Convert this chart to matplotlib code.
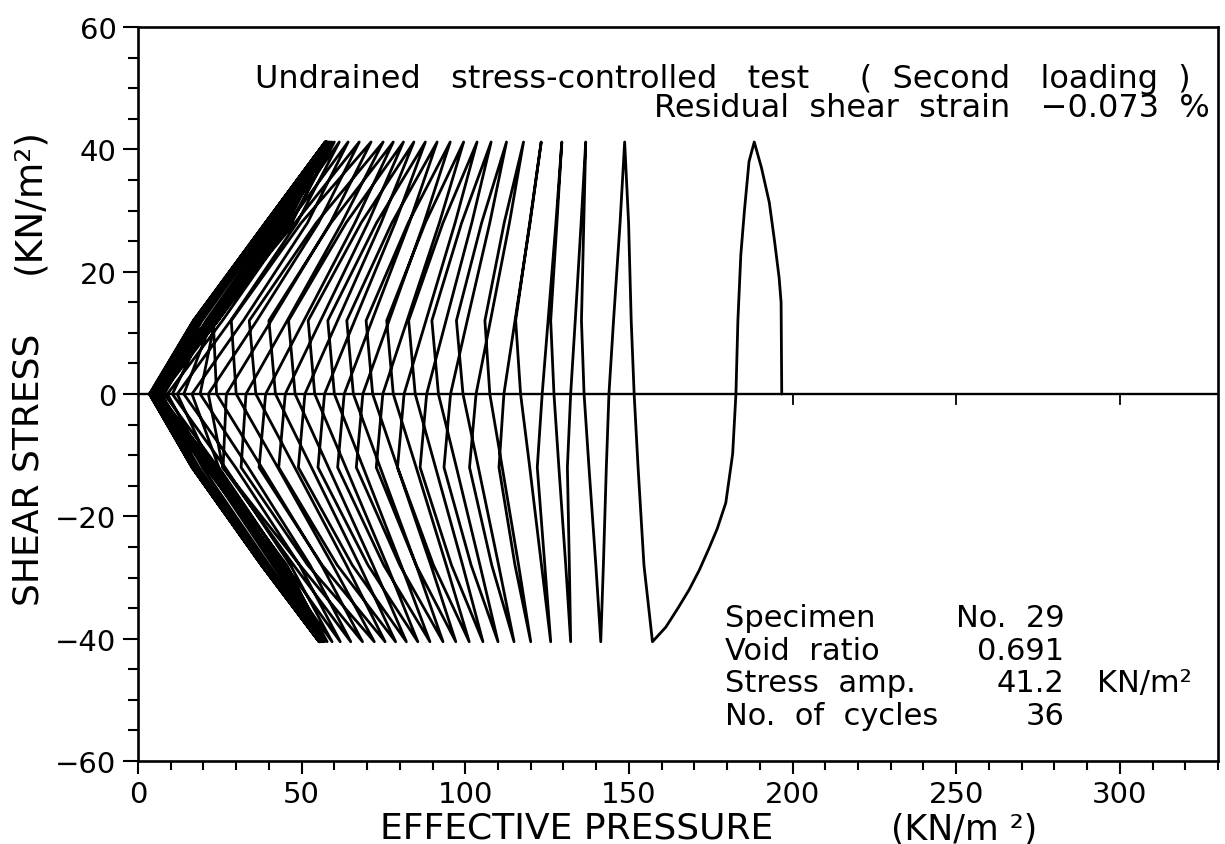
import matplotlib
matplotlib.use("Agg")
import matplotlib.pyplot as plt
from matplotlib.ticker import MultipleLocator

# ---- stress path data: effective pressure p' (kN/m2) and shear stress q (kN/m2) ----
# initial loading and the first unloading branch, traced point by point
first_p = [196.7, 196.6, 196.5, 195.9, 194.5, 192.9, 190.5, 188.3, 186.7, 185.3,
           184.2, 183.3, 182.7, 181.7, 179.6, 177.0, 174.5, 171.5, 168.4, 165.0,
           161.3, 157.2]
first_q = [0.0, 8.0, 15.0, 19.0, 25.0, 31.3, 37.0, 41.2, 38.0, 30.0,
           22.8, 12.0, 0.0, -9.8, -17.8, -22.0, -25.2, -28.8, -32.0, -35.0,
           -38.1, -40.5]

# p' at the positive peak (q = +41.2) and at the negative peak (q = -40.5) of each cycle
peak_p = [188.3, 148.7, 136.8, 129.5, 123.2, 117.8, 112.6, 107.9, 103.6, 99.5,
          95.4, 91.4, 87.8, 84.3, 81.1, 78.0, 74.9, 71.2, 67.6, 64.2,
          61.5, 60.0, 59.2, 58.6, 58.2, 57.9, 57.7, 57.6, 57.5, 57.4,
          57.4, 57.3, 57.3, 57.2, 57.2, 57.2]
trough_p = [157.2, 141.4, 132.2, 126.1, 120.0, 114.9, 110.0, 105.4, 101.2, 97.1,
            93.2, 89.2, 85.5, 82.0, 78.7, 75.5, 72.2, 68.6, 65.0, 61.8,
            59.3, 57.8, 57.0, 56.5, 56.2, 56.0, 55.8, 55.7, 55.6, 55.6,
            55.5, 55.5, 55.4, 55.4, 55.4, 55.3]
q_peak = 41.2
q_trough = -40.5

# unloading branches of cycles 2..36: p' read where q = +28, +12, 0, -12, -28
fall_q = [28.0, 12.0, 0.0, -12.0, -28.0]
fall_p28 = [147.3, 135.4, 127.7, 119.8, 113.5, 107.5, 102.0, 96.9, 92.1, 87.4,
            82.9, 78.6, 74.3, 70.3, 66.3, 62.3, 58.8, 55.2, 51.8, 48.6,
            46.7, 47.0, 44.9, 45.8, 44.1, 45.4, 43.7, 45.0, 43.5, 44.9,
            43.4, 44.8, 43.3, 44.6, 43.2]
fall_p12 = [145.3, 133.6, 125.3, 115.2, 107.7, 100.6, 94.1, 88.0, 82.2, 76.7,
            71.5, 66.2, 61.0, 55.8, 50.7, 45.6, 40.7, 36.3, 32.2, 28.3,
            25.8, 24.4, 24.5, 22.8, 23.8, 22.1, 23.5, 21.7, 23.2, 21.6,
            23.0, 21.4, 22.8, 21.2, 22.6]
fall_zero = [143.9, 132.2, 123.5, 111.8, 103.3, 95.5, 88.2, 81.3, 74.8, 68.7,
             63.0, 57.0, 51.0, 45.0, 39.0, 33.0, 27.0, 21.5, 16.5, 12.0,
             9.0, 7.2, 6.0, 5.3, 4.8, 4.5, 4.3, 4.1, 4.0, 3.9,
             3.8, 3.7, 3.6, 3.5, 3.5]
fall_m12 = [143.1, 131.2, 122.0, 110.3, 101.3, 93.5, 86.2, 79.3, 72.8, 66.7,
            61.0, 55.0, 49.0, 43.0, 37.0, 31.5, 26.0, 25.9, 24.7, 22.4,
            21.2, 19.7, 18.6, 18.0, 17.6, 17.3, 17.2, 17.0, 16.9, 16.8,
            16.7, 16.6, 16.6, 16.5, 16.5]
fall_m28 = [142.2, 131.8, 124.3, 115.2, 108.1, 101.8, 95.8, 90.3, 85.0, 80.0,
            75.1, 70.3, 65.5, 60.9, 56.3, 51.9, 49.5, 47.6, 45.0, 42.7,
            41.2, 40.1, 39.3, 38.9, 38.6, 38.4, 38.2, 38.1, 38.1, 38.0,
            37.9, 37.8, 37.8, 37.8, 37.7]

# reloading branches of cycles 1..35: p' read where q = -28, -12, 0, +12, +28
rise_q = [-28.0, -12.0, 0.0, 12.0, 28.0]
rise_m28 = [154.6, 139.9, 130.7, 123.3, 116.3, 110.2, 104.5, 99.2, 94.2, 89.5,
            85.0, 80.4, 76.1, 71.8, 67.7, 63.7, 59.5, 56.1, 52.6, 49.4,
            46.6, 44.9, 45.5, 43.3, 44.3, 42.6, 43.9, 42.3, 43.6, 42.2,
            43.5, 42.0, 43.3, 41.9, 43.2]
rise_m12 = [152.8, 137.8, 128.6, 119.7, 111.3, 104.0, 97.3, 90.9, 85.0, 79.3,
            74.0, 68.8, 63.5, 58.2, 53.0, 47.9, 42.7, 37.8, 33.7, 29.8,
            26.6, 24.4, 23.2, 23.8, 21.9, 23.0, 21.4, 22.6, 21.1, 22.3,
            20.9, 22.1, 20.8, 21.9, 20.6]
rise_zero = [151.6, 136.3, 127.1, 116.9, 107.5, 99.3, 91.8, 84.7, 78.0, 71.7,
             65.8, 60.0, 54.0, 48.0, 42.0, 36.0, 30.0, 24.0, 19.0, 14.0,
             10.5, 8.0, 6.6, 5.6, 5.0, 4.6, 4.4, 4.2, 4.1, 4.0,
             3.9, 3.8, 3.7, 3.6, 3.5]
rise_p12 = [150.7, 135.5, 126.1, 115.4, 106.0, 97.3, 89.8, 82.7, 76.0, 69.7,
            63.8, 58.0, 52.0, 46.0, 40.0, 34.0, 28.5, 23.0, 23.5, 22.6,
            21.4, 20.8, 19.6, 18.8, 18.2, 17.9, 17.7, 17.5, 17.4, 17.4,
            17.3, 17.2, 17.1, 17.0, 16.9]
rise_p28 = [149.9, 136.2, 128.0, 119.7, 111.9, 105.0, 98.9, 93.2, 87.8, 82.6,
            77.6, 72.9, 68.2, 63.6, 59.0, 54.5, 49.9, 48.0, 46.1, 43.9,
            42.7, 41.8, 40.9, 40.3, 39.9, 39.6, 39.5, 39.4, 39.3, 39.2,
            39.1, 39.1, 39.0, 39.0, 38.9]

# test information
title_line = "Undrained   stress-controlled   test     (  Second   loading  )"
strain_line = "Residual  shear  strain   \u22120.073  %"
info_labels = ["Specimen", "Void  ratio", "Stress  amp.", "No.  of  cycles"]
info_values = ["No.  29", "0.691", "41.2", "36"]
amp_unit = "KN/m\u00b2"
y_title = "SHEAR STRESS"
y_unit = "(KN/m\u00b2)"
x_title = "EFFECTIVE PRESSURE"
x_unit = "(KN/m \u00b2)"
zero_line_ticks = [200, 250, 300]

# ---- assemble the continuous path ----
path_p = list(first_p)
path_q = list(first_q)
for k in range(len(rise_zero)):
    path_p += [rise_m28[k], rise_m12[k], rise_zero[k], rise_p12[k], rise_p28[k],
               peak_p[k + 1]]
    path_q += rise_q + [q_peak]
    path_p += [fall_p28[k], fall_p12[k], fall_zero[k], fall_m12[k], fall_m28[k],
               trough_p[k + 1]]
    path_q += fall_q + [q_trough]

plt.rcParams['font.family'] = ['DejaVu Sans']

W, H = 1225, 845
fig = plt.figure(figsize=(W / 100, H / 100), dpi=100)
ax = fig.add_axes([138 / W, 1 - 762 / H, (1218 - 138) / W, (762 - 28) / H])

ax.axhline(0, color='black', lw=1.7, zorder=1)
for xt in zero_line_ticks:
    ax.plot([xt, xt], [0, -1.6], color='black', lw=1.3, zorder=1)
ax.plot(path_p, path_q, color='black', lw=2.0, solid_joinstyle='round',
        solid_capstyle='round', zorder=2)

ax.set_xlim(0, 330)
ax.set_ylim(-60, 60)
ax.xaxis.set_major_locator(MultipleLocator(50))
ax.xaxis.set_minor_locator(MultipleLocator(10))
ax.yaxis.set_major_locator(MultipleLocator(20))
ax.yaxis.set_minor_locator(MultipleLocator(5))
ax.tick_params(axis='both', which='both', direction='out', width=1.5,
               top=False, right=False)
ax.tick_params(axis='x', which='major', length=9.5, pad=4, labelsize=21)
ax.tick_params(axis='x', which='minor', length=6.5)
ax.tick_params(axis='y', which='major', length=10.5, pad=5, labelsize=21)
ax.tick_params(axis='y', which='minor', length=7)
for s in ax.spines.values():
    s.set_linewidth(1.9)

# titles inside the plot
ax.text(321.5, 51.5, title_line, ha='right', va='center', fontsize=23)
ax.text(327.5, 46.9, strain_line, ha='right', va='center', fontsize=23)

# specimen information block
rows_q = [-36.6, -41.9, -47.2, -52.5]
for lab, val, yq in zip(info_labels, info_values, rows_q):
    ax.text(179.5, yq, lab, ha='left', va='center', fontsize=22)
    ax.text(283.0, yq, val, ha='right', va='center', fontsize=22)
ax.text(293.0, rows_q[2], amp_unit, ha='left', va='center', fontsize=22)

# axis titles
fig.text(29 / W, 1 - 470 / H, y_title, rotation=90, ha='center', va='center', fontsize=26)
fig.text(29 / W, 1 - 201 / H, y_unit, rotation=90, ha='center', va='center', fontsize=27)
fig.text(380 / W, 1 - 839 / H, x_title, ha='left', va='baseline', fontsize=26)
fig.text(964 / W, 1 - 840 / H, x_unit, ha='center', va='baseline', fontsize=25)

fig.savefig("out.png", dpi=100)
